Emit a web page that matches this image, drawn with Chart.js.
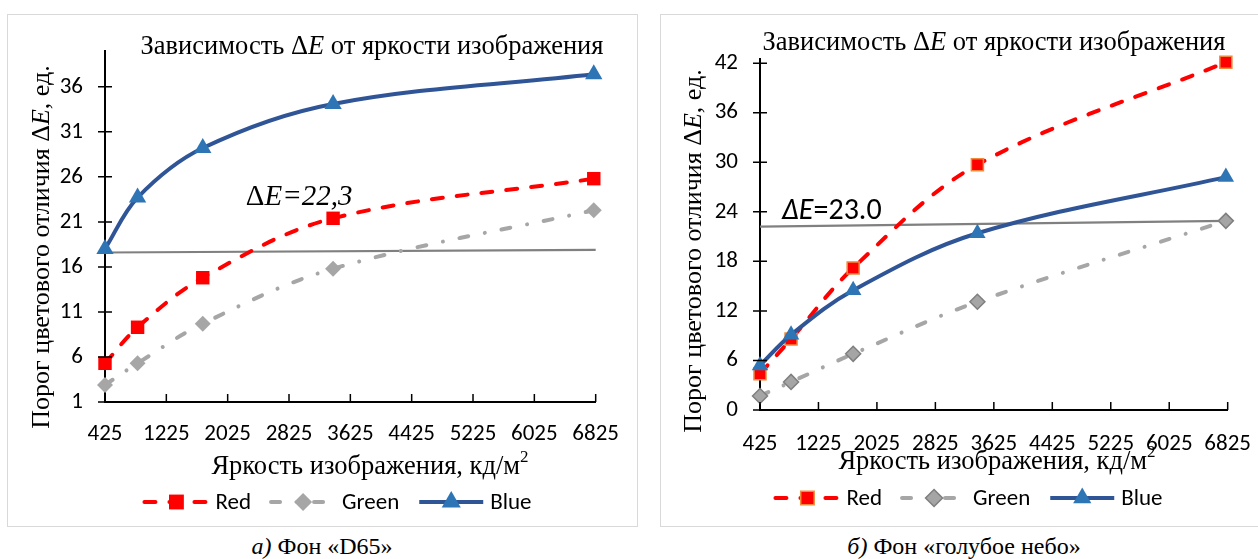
<!DOCTYPE html>
<html lang="ru">
<head>
<meta charset="utf-8">
<title>Зависимость ΔE от яркости изображения</title>
<script src="https://cdn.jsdelivr.net/npm/chart.js@4.4.1/dist/chart.umd.min.js"></script>
<style>
  html, body { margin: 0; padding: 0; background: #fff; }
  body { position: relative; width: 1258px; height: 559px; overflow: hidden; }
  .panel { position: absolute; top: 14px; border: 1px solid #d9d9d9; background: #fff; }
  #panelA { left: 7px; width: 629px; height: 511px; }
  #panelB { left: 660px; width: 620px; height: 511px; }
  canvas { display: block; }
  .caption {
    position: absolute; top: 533px; transform: translateX(-50%);
    font: 24px "Liberation Serif", "Times New Roman", serif; white-space: nowrap; color: #000;
  }
</style>
</head>
<body>
<div class="panel" id="panelA"><canvas id="chartA" width="629" height="511"></canvas></div>
<div class="panel" id="panelB"><canvas id="chartB" width="610" height="511"></canvas></div>
<div class="caption" style="left:322px"><i>а)</i> Фон «D65»</div>
<div class="caption" style="left:964px"><i>б)</i> Фон «голубое небо»</div>

<script>
// luminance, cd/m2
const luminance = [425, 850, 1700, 3400, 6800];
const xTickLabels = [425, 1225, 2025, 2825, 3625, 4425, 5225, 6025, 6825];
const thresholdX = [425, 6825];

// a) background D65
const d65Red = [5.3, 9.3, 14.8, 21.4, 25.8];
const d65Green = [2.9, 5.3, 9.7, 15.8, 22.3];
const d65Blue = [18.0, 23.7, 29.2, 34.1, 37.4];
const d65Threshold = [17.6, 17.9];
const d65YTicks = [1, 6, 11, 16, 21, 26, 31, 36];

// b) background "blue sky"
const skyRed = [4.4, 8.6, 17.2, 29.7, 42.1];
const skyGreen = [1.7, 3.4, 6.8, 13.1, 22.9];
const skyBlue = [5.4, 9.1, 14.5, 21.4, 28.2];
const skyThreshold = [22.2, 22.9];
const skyYTicks = [0, 6, 12, 18, 24, 30, 36, 42];

const serif = '"Liberation Serif", "Times New Roman", serif';
const sans = 'Carlito, Lato, "Liberation Sans", sans-serif';

function points(xs, ys) {
  return ys.map((y, i) => ({ x: xs[i], y: y }));
}

function drawRuns(ctx, runs, x, y, align) {
  let total = 0;
  runs.forEach(r => { ctx.font = r.font; r.w = ctx.measureText(r.text).width; total += r.w; });
  let cx = align === 'center' ? x - total / 2 : x;
  ctx.textAlign = 'left';
  runs.forEach(r => {
    ctx.font = r.font;
    ctx.fillText(r.text, cx, y + (r.dy || 0));
    cx += r.w;
  });
}

function drawMarker(ctx, style, x, y, r, fill, stroke, lw) {
  ctx.save();
  ctx.setLineDash([]);
  ctx.fillStyle = fill;
  ctx.strokeStyle = stroke;
  ctx.lineWidth = lw;
  ctx.beginPath();
  if (style === 'rect') {
    const s = r * Math.SQRT1_2;
    ctx.rect(x - s, y - s, 2 * s, 2 * s);
  } else if (style === 'rectRot') {
    ctx.moveTo(x, y - r); ctx.lineTo(x + r, y); ctx.lineTo(x, y + r); ctx.lineTo(x - r, y);
    ctx.closePath();
  } else {
    const a = 2 * Math.PI / 3;
    ctx.moveTo(x, y - r);
    ctx.lineTo(x + Math.sin(a) * r, y - Math.cos(a) * r);
    ctx.lineTo(x + Math.sin(2 * a) * r, y - Math.cos(2 * a) * r);
    ctx.closePath();
  }
  ctx.fill();
  if (lw > 0) ctx.stroke();
  ctx.restore();
}

const figurePlugin = {
  id: 'figure',
  afterDraw(chart, args, opts) {
    const ctx = chart.ctx;
    const xs = chart.scales.x;
    const ys = chart.scales.y;
    ctx.save();

    // cross tick marks like in the original spreadsheet chart
    ctx.strokeStyle = '#000';
    ctx.lineWidth = 1.5;
    ctx.beginPath();
    ys.ticks.forEach(t => {
      const p = ys.getPixelForValue(t.value);
      ctx.moveTo(xs.left - 7, p); ctx.lineTo(xs.left + 7, p);
    });
    xs.ticks.forEach(t => {
      const p = xs.getPixelForValue(t.value);
      ctx.moveTo(p, ys.bottom); ctx.lineTo(p, ys.bottom - 8);
    });
    ctx.stroke();

    ctx.fillStyle = '#000';
    ctx.textBaseline = 'middle';
    drawRuns(ctx, opts.title.runs, opts.title.x, opts.title.y, 'center');
    drawRuns(ctx, opts.xTitle.runs, opts.xTitle.x, opts.xTitle.y, 'center');

    ctx.save();
    ctx.translate(opts.yTitle.x, opts.yTitle.y);
    ctx.rotate(-Math.PI / 2);
    drawRuns(ctx, opts.yTitle.runs, 0, 0, 'center');
    ctx.restore();

    drawRuns(ctx, opts.note.runs, xs.getPixelForValue(opts.note.x), ys.getPixelForValue(opts.note.y), 'left');

    // legend: line sample with marker, then label
    const items = chart.data.datasets.filter(d => d.inLegend !== false);
    const lg = opts.legend;
    ctx.font = lg.font;
    let total = 0;
    items.forEach(d => { total += lg.sample + lg.gap + ctx.measureText(d.label).width; });
    total += lg.spacing * (items.length - 1);
    let x = lg.x - total / 2;
    items.forEach(d => {
      ctx.save();
      ctx.strokeStyle = d.borderColor;
      ctx.lineWidth = d.borderWidth;
      ctx.lineCap = d.borderCapStyle || 'butt';
      ctx.setLineDash(d.borderDash || []);
      ctx.beginPath();
      ctx.moveTo(x + 2, lg.y); ctx.lineTo(x + lg.sample - 2, lg.y);
      ctx.stroke();
      ctx.restore();
      drawMarker(ctx, d.pointStyle, x + lg.sample / 2, lg.y, d.pointRadius + 1,
        d.pointBackgroundColor, d.pointBorderColor, d.pointBorderWidth);
      x += lg.sample + lg.gap;
      ctx.font = lg.font;
      ctx.fillStyle = '#000';
      ctx.textAlign = 'left';
      ctx.fillText(d.label, x, lg.y + 1);
      x += ctx.measureText(d.label).width + lg.spacing;
    });
    ctx.restore();
  }
};

function yTitleRuns() {
  return [
    { text: 'Порог цветового отличия Δ', font: '26px ' + serif },
    { text: 'E', font: 'italic 26px ' + serif },
    { text: ', ед.', font: '26px ' + serif }
  ];
}
function titleRuns() {
  return [
    { text: 'Зависимость Δ', font: '26.5px ' + serif },
    { text: 'E', font: 'italic 26.5px ' + serif },
    { text: ' от яркости изображения', font: '26.5px ' + serif }
  ];
}
function xTitleRuns() {
  return [
    { text: 'Яркость изображения, кд/м', font: '26.5px ' + serif },
    { text: '2', font: '17px ' + serif, dy: -9 }
  ];
}

function makeChart(canvasId, cfg) {
  const red = {
    label: 'Red', data: points(luminance, cfg.red), order: 3,
    borderColor: '#ff0000', borderWidth: 4, borderDash: [11, 14], borderCapStyle: 'round',
    pointStyle: 'rect', pointRadius: cfg.rectR, pointHoverRadius: cfg.rectR,
    pointBackgroundColor: '#ff0000', pointBorderColor: cfg.redEdge, pointBorderWidth: cfg.edgeW
  };
  const green = {
    label: 'Green', data: points(luminance, cfg.green), order: 2,
    borderColor: '#a6a6a6', borderWidth: 4, borderDash: [9, 17, 0.01, 17], borderCapStyle: 'round',
    pointStyle: 'rectRot', pointRadius: cfg.diamondR, pointHoverRadius: cfg.diamondR,
    pointBackgroundColor: cfg.greenFill, pointBorderColor: cfg.greenEdge, pointBorderWidth: cfg.edgeW
  };
  const blue = {
    label: 'Blue', data: points(luminance, cfg.blue), order: 1,
    borderColor: '#2f5597', borderWidth: 4,
    pointStyle: 'triangle', pointRadius: cfg.triR, pointHoverRadius: cfg.triR,
    pointBackgroundColor: '#2e75b6', pointBorderColor: '#2e75b6', pointBorderWidth: 0
  };
  const threshold = {
    label: 'threshold', inLegend: false, data: points(thresholdX, cfg.threshold), order: 4,
    borderColor: '#808080', borderWidth: 2.2, pointRadius: 0, tension: 0
  };

  return new Chart(document.getElementById(canvasId), {
    type: 'line',
    data: { datasets: [red, green, blue, threshold] },
    plugins: [figurePlugin],
    options: {
      responsive: false,
      animation: false,
      events: [],
      layout: { padding: cfg.padding },
      elements: { line: { tension: 0.35, fill: false } },
      datasets: { line: { clip: false } },
      scales: {
        x: {
          type: 'linear', min: 425, max: 6825,
          afterBuildTicks: s => { s.ticks = xTickLabels.map(v => ({ value: v })); },
          afterFit: s => { s.height = 40; },
          grid: { drawOnChartArea: false, drawTicks: false },
          border: { display: true, color: '#000', width: 2 },
          ticks: {
            autoSkip: false, maxRotation: 0, minRotation: 0, padding: cfg.xPad,
            color: '#000', font: { family: sans, size: 23 },
            callback: v => String(v)
          }
        },
        y: {
          type: 'linear', min: cfg.yMin, max: cfg.yMax,
          afterBuildTicks: s => { s.ticks = cfg.yTicks.map(v => ({ value: v })); },
          afterFit: s => { s.width = 60; },
          grid: { drawOnChartArea: false, drawTicks: false },
          border: { display: true, color: '#000', width: 2 },
          ticks: {
            padding: 22, color: '#000', font: { family: sans, size: 23 },
            callback: v => String(v)
          }
        }
      },
      plugins: {
        legend: { display: false },
        tooltip: { enabled: false },
        figure: {
          title: { runs: titleRuns(), x: cfg.titleX, y: cfg.titleY },
          xTitle: { runs: xTitleRuns(), x: cfg.xTitleX, y: cfg.xTitleY },
          yTitle: { runs: yTitleRuns(), x: cfg.yTitleX, y: cfg.yTitleY },
          note: { runs: cfg.noteRuns, x: cfg.noteX, y: cfg.noteY },
          legend: { x: cfg.legendX, y: cfg.legendY, sample: 68, gap: 5, spacing: 18, font: '23px ' + sans }
        }
      }
    }
  });
}

makeChart('chartA', {
  red: d65Red, green: d65Green, blue: d65Blue, threshold: d65Threshold,
  yTicks: d65YTicks, yMin: 1, yMax: 40,
  padding: { left: 37, right: 37, top: 34, bottom: 84 },
  xPad: 18,
  rectR: 9.5, diamondR: 8, triR: 10, edgeW: 0,
  redEdge: '#ff0000', greenFill: '#a6a6a6', greenEdge: '#a6a6a6',
  titleX: 364, titleY: 32,
  xTitleX: 362, xTitleY: 452,
  yTitleX: 34, yTitleY: 232,
  noteX: 2261, noteY: 23.7,
  noteRuns: [
    { text: 'Δ', font: '29px ' + serif },
    { text: 'E=22,3', font: 'italic 29px ' + serif }
  ],
  legendX: 329, legendY: 487
});

makeChart('chartB', {
  red: skyRed, green: skyGreen, blue: skyBlue, threshold: skyThreshold,
  yTicks: skyYTicks, yMin: 0, yMax: 42.5,
  padding: { left: 39, right: 41, top: 44, bottom: 76 },
  xPad: 20,
  rectR: 8.5, diamondR: 7.5, triR: 9.5, edgeW: 1.5,
  redEdge: '#f08a3c', greenFill: '#a5a5a5', greenEdge: '#7f7f7f',
  titleX: 333, titleY: 28,
  xTitleX: 336, xTitleY: 447,
  yTitleX: 33, yTitleY: 236,
  noteX: 725, noteY: 24.0,
  noteRuns: [
    { text: 'ΔE', font: 'italic 30px ' + sans },
    { text: '=23.0', font: '30px ' + sans }
  ],
  legendX: 307, legendY: 483
});
</script>
</body>
</html>
